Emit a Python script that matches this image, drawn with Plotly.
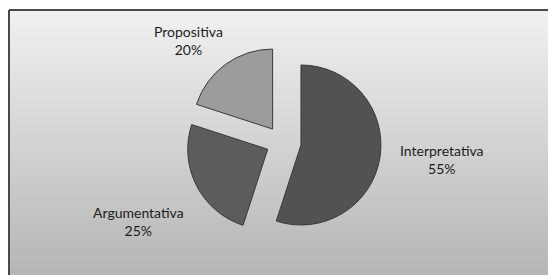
import plotly.graph_objects as go

labels = ["Interpretativa", "Argumentativa", "Propositiva"]
values = [55, 25, 20]
colors = ["#525252", "#5c5c5c", "#9c9c9c"]
pulls = [0.24, 0.2, 0.2]

W, H = 548, 275

fig = go.Figure()

# pie domain (in paper fractions)
cx, cy, half = 282, 142, 99.2
fig.add_trace(go.Pie(
    labels=labels, values=values, sort=False, direction="clockwise", rotation=0,
    marker=dict(colors=colors, line=dict(color="#3a3a3a", width=1)),
    pull=pulls, textinfo="none", hoverinfo="label+percent", showlegend=False,
    domain=dict(x=[(cx - half) / W, (cx + half) / W],
                y=[1 - (cy + half) / H, 1 - (cy - half) / H]),
))

# background gradient bands inside frame
shapes = []
x0, y0 = 9, 10
n = 60
top_c, bot_c = 241, 181
for i in range(n):
    ya = y0 + (H - y0) * i / n
    yb = y0 + (H - y0) * (i + 1) / n + 0.5
    g = int(round(top_c + (bot_c - top_c) * (i + 0.5) / n))
    shapes.append(dict(type="rect", xref="paper", yref="paper", layer="below",
                       x0=x0 / W, x1=1.0, y0=1 - min(yb, H) / H, y1=1 - ya / H,
                       fillcolor=f"rgb({g},{g},{g})", line=dict(width=0)))
# frame border (top and left)
shapes.append(dict(type="line", xref="paper", yref="paper", layer="below",
                   x0=x0 / W, x1=1.0, y0=1 - y0 / H, y1=1 - y0 / H,
                   line=dict(color="#4a4a4a", width=2)))
shapes.append(dict(type="line", xref="paper", yref="paper", layer="below",
                   x0=x0 / W, x1=x0 / W, y0=0, y1=1 - y0 / H,
                   line=dict(color="#4a4a4a", width=2)))

# label positions (pixel centers)
label_pos = {"Interpretativa": (442, 159), "Argumentativa": (138, 221), "Propositiva": (188, 41)}
annotations = []
for lab, v in zip(labels, values):
    px, py = label_pos[lab]
    annotations.append(dict(text=f"{lab}<br>{v}%", x=px / W, y=1 - py / H,
                            xref="paper", yref="paper", showarrow=False,
                            xanchor="center", yanchor="middle", align="center",
                            font=dict(family="Lato", size=14, color="#1c1c1c")))

fig.update_layout(
    width=W, height=H, margin=dict(l=0, r=0, t=0, b=0),
    paper_bgcolor="white", plot_bgcolor="white",
    shapes=shapes, annotations=annotations,
)

fig.write_html("out.html", config={"displayModeBar": False},
               post_script="document.body.style.margin='0';document.body.style.overflow='hidden';")
